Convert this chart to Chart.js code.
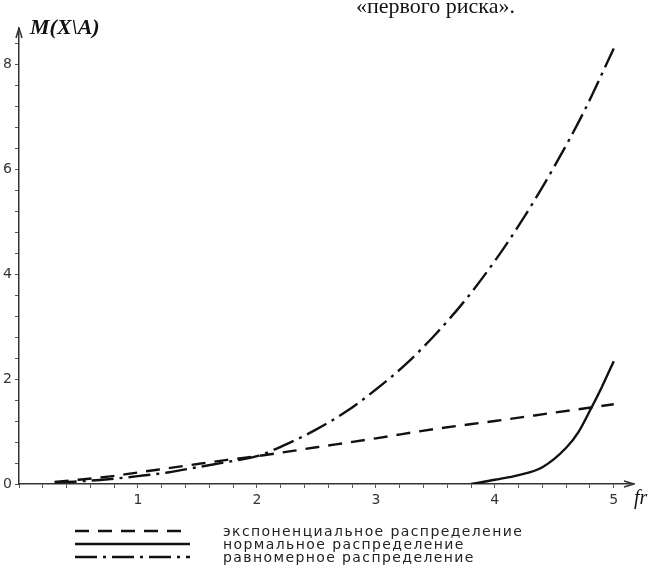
<!DOCTYPE html>
<html>
<head>
<meta charset="utf-8">
<script src="https://cdn.jsdelivr.net/npm/chart.js@4"></script>
<style>
  body { margin: 0; background: #fff; }
  #wrap { position: relative; width: 659px; height: 567px; overflow: hidden; }
  canvas { position: absolute; left: 0; top: 0; }
  .serif { position: absolute; font-family: "Liberation Serif", serif; color: #111; white-space: nowrap; line-height: 25px; }
  #legend { position: absolute; left: 75px; top: 524px; font-family: "DejaVu Sans", sans-serif; font-size: 14px; color: #222; letter-spacing: 1.4px; }
  .row { height: 13px; display: flex; align-items: center; }
  .row svg { width: 115px; height: 8px; margin-right: 33px; }
</style>
</head>
<body>
<div id="wrap">
  <canvas id="chart" width="659" height="567"></canvas>
  <div class="serif" style="left:356px; top:-7px; font-size:22px;">«первого риска».</div>
  <div class="serif" style="left:30px; top:14px; font-size:22px; font-style:italic; font-weight:bold;">M(X\A)</div>
  <div class="serif" style="left:634px; top:485px; font-size:20px; font-style:italic;">fr</div>
  <div id="legend"></div>
</div>
<script>
const seriesNames = ['экспоненциальное распределение', 'нормальное распределение', 'равномерное распределение'];

const expX = [0.3, 0.5, 0.75, 1, 1.25, 1.5, 1.75, 2, 2.5, 3, 3.5, 4, 4.5, 5];
const expY = [0.04, 0.08, 0.14, 0.22, 0.3, 0.38, 0.46, 0.53, 0.7, 0.87, 1.05, 1.2, 1.36, 1.52];

const normX = [3.8, 4, 4.2, 4.4, 4.6, 4.7, 4.8, 4.9, 5];
const normY = [0, 0.08, 0.17, 0.32, 0.69, 0.98, 1.4, 1.85, 2.34];

const uniX = [0.3, 0.5, 0.75, 1, 1.25, 1.5, 1.75, 2, 2.25, 2.5, 2.75, 3, 3.25, 3.5, 3.75, 4, 4.25, 4.5, 4.75, 5];
const uniY = [0.03, 0.05, 0.09, 0.15, 0.22, 0.32, 0.42, 0.53, 0.76, 1.04, 1.38, 1.8, 2.28, 2.85, 3.5, 4.25, 5.1, 6.05, 7.1, 8.3];

const dashes = [[14, 9], [], [22, 6, 3, 6]];

function pts(xs, ys) {
  return xs.map((x, i) => ({ x, y: ys[i] }));
}

// arrowheads on both axes, Maple style
const axisArrows = {
  id: 'axisArrows',
  afterDraw(chart) {
    const { ctx, chartArea: a } = chart;
    ctx.save();
    ctx.strokeStyle = '#333';
    ctx.lineWidth = 1.5;
    ctx.beginPath();
    ctx.moveTo(a.left, a.top); ctx.lineTo(a.left - 3, a.top + 10);
    ctx.moveTo(a.left, a.top); ctx.lineTo(a.left + 3, a.top + 10);
    ctx.moveTo(a.right, a.bottom); ctx.lineTo(a.right - 10, a.bottom - 3);
    ctx.moveTo(a.right, a.bottom); ctx.lineTo(a.right - 10, a.bottom + 3);
    ctx.stroke();
    ctx.restore();
  }
};

const ds = [pts(expX, expY), pts(normX, normY), pts(uniX, uniY)].map((data, i) => ({
  label: seriesNames[i],
  data,
  borderColor: '#111',
  borderWidth: 2.4,
  borderDash: dashes[i],
  pointRadius: 0,
  fill: false,
  cubicInterpolationMode: 'monotone'
}));

const tickFont = { family: 'DejaVu Sans', size: 14 };

new Chart(document.getElementById('chart'), {
  type: 'line',
  data: { datasets: ds },
  options: {
    responsive: false,
    animation: false,
    layout: { padding: { top: 28, right: 25 } },
    plugins: { legend: { display: false }, tooltip: { enabled: false } },
    scales: {
      x: {
        type: 'linear',
        min: 0,
        max: 5.17,
        afterFit: s => { s.height = 83; },
        border: { display: true, color: '#333', width: 1.5 },
        grid: { drawOnChartArea: false, tickLength: 4, color: '#555' },
        ticks: {
          stepSize: 0.2,
          includeBounds: false,
          autoSkip: false,
          maxRotation: 0,
          padding: 4,
          color: '#333',
          font: tickFont,
          callback: v => (Math.abs(v - Math.round(v)) < 1e-6 && Math.round(v) > 0) ? String(Math.round(v)) : ''
        }
      },
      y: {
        min: 0,
        max: 8.69,
        afterFit: s => { s.width = 19; },
        border: { display: true, color: '#333', width: 1.5 },
        grid: { drawOnChartArea: false, tickLength: 4, color: '#555' },
        ticks: {
          stepSize: 0.4,
          includeBounds: false,
          autoSkip: false,
          padding: 3,
          color: '#333',
          font: tickFont,
          callback: v => Math.abs(v / 2 - Math.round(v / 2)) < 1e-6 ? String(Math.round(v)) : ''
        }
      }
    }
  },
  plugins: [axisArrows]
});

document.getElementById('legend').innerHTML = seriesNames.map((name, i) => `
  <div class="row">
    <svg><line x1="0" y1="4" x2="115" y2="4" stroke="#111" stroke-width="2.4" stroke-dasharray="${dashes[i].join(' ') || 'none'}"/></svg>
    <span>${name}</span>
  </div>
`).join('');
</script>
</body>
</html>
